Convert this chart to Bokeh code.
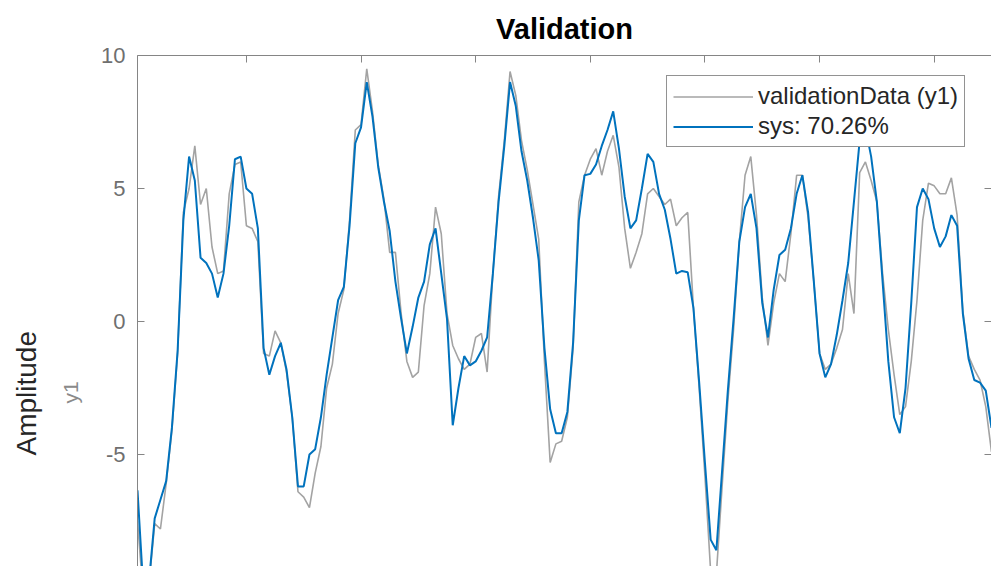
from bokeh.plotting import figure
from bokeh.models import LinearAxis, FixedTicker, Legend, LegendItem, Range1d, Title
from bokeh.embed import file_html
from bokeh.resources import INLINE

samples = list(range(1, 151))

validation_y1 = [
    -7.5, -10.3, -9.9, -7.6, -7.8, -6.1, -4.1, -1.2, 4.1, 5.0,
    6.6, 4.4, 5.0, 2.8, 1.8, 1.9, 4.8, 5.9, 6.0, 3.6,
    3.5, 3.0, -1.2, -1.3, -0.35, -0.8, -1.9, -3.6, -6.4, -6.6,
    -7.0, -5.7, -4.7, -2.5, -1.6, 0.3, 1.2, 3.8, 7.2, 7.4,
    9.5, 7.9, 5.9, 4.6, 2.6, 2.6, 0.3, -1.5, -2.1, -1.9,
    0.6, 1.8, 4.3, 3.3, 0.3, -0.9, -1.4, -1.8, -1.6, -0.6,
    -0.45, -1.9, 1.8, 4.7, 6.8, 9.4, 8.5, 6.8, 5.7, 4.4,
    3.1, -1.5, -5.3, -4.6, -4.5, -3.6, -1.0, 4.5, 5.5, 6.1,
    6.5, 5.5, 6.4, 7.0, 5.8, 3.5, 2.0, 2.6, 3.3, 4.8,
    5.0, 4.7, 4.4, 4.6, 3.6, 3.9, 4.1, 0.5, -2.5, -5.8,
    -9.4, -9.5, -6.2, -3.0, -0.3, 3.0, 5.5, 6.2, 4.0, 0.9,
    -0.9, 0.7, 1.8, 1.5, 3.3, 5.5, 5.5, 3.9, 1.5, -1.2,
    -1.8, -1.6, -1.0, -0.3, 1.8, 0.3, 5.6, 6.0, 5.3, 4.5,
    1.8, -0.3, -2.0, -3.5, -3.2, -1.5, 0.8, 3.8, 5.2, 5.1,
    4.8, 4.8, 5.4, 4.0, 0.4, -1.3, -1.8, -2.2, -3.2, -4.9,
]

sys_fit = [
    -6.35, -10.0, -9.8, -7.4, -6.7, -6.0, -4.0, -1.1, 3.8, 6.2,
    5.3, 2.4, 2.2, 1.8, 0.9, 1.8, 3.6, 6.1, 6.2, 5.0,
    4.8, 3.5, -1.0, -2.0, -1.3, -0.8, -1.8, -3.6, -6.2, -6.2,
    -5.0, -4.8, -3.6, -2.0, -0.6, 0.8, 1.3, 3.6, 6.7, 7.3,
    9.0, 7.7, 5.8, 4.5, 3.4, 1.5, 0.1, -1.2, -0.2, 0.9,
    1.5, 2.9, 3.5, 1.8, 0.1, -3.9, -2.5, -1.3, -1.65, -1.5,
    -1.1, -0.6, 1.8, 4.5, 6.6, 9.0, 8.1, 6.4, 5.3, 3.9,
    2.3, -1.0, -3.3, -4.2, -4.2, -3.4, -0.8, 3.8, 5.5, 5.55,
    5.9, 6.6, 7.2, 7.9, 6.5, 4.7, 3.5, 3.8, 5.0, 6.3,
    6.0, 4.8, 4.2, 3.1, 1.8, 1.9, 1.85, 0.5, -2.3, -5.3,
    -8.2, -8.6, -5.6, -2.6, 0.1, 3.0, 4.3, 4.8, 3.5, 0.7,
    -0.6, 1.2, 2.5, 2.7, 3.5, 4.8, 5.5, 4.1, 1.5, -1.2,
    -2.1, -1.6, -0.5, 0.8, 2.2, 4.5, 6.8, 7.3, 6.2, 4.5,
    1.5, -1.5, -3.6, -4.2, -2.5, 0.7, 4.3, 5.0, 4.6, 3.5,
    2.8, 3.2, 4.0, 3.6, 0.3, -1.4, -2.2, -2.3, -2.6, -4.0,
]

x_ticks = [20, 40, 60, 80, 100, 120, 140]
y_ticks = [-5, 0, 5, 10]
y_tick_labels = ["-5", "0", "5", "10"]

series_labels = ["validationData (y1)", "sys: 70.26%"]
title_text = "Validation"
ylabel_text = "Amplitude"
ysub_text = "y1"

FONT = "Liberation Sans"
AXIS_COLOR = "#858585"
TICKLABEL_COLOR = "#6f6f6f"

p = figure(width=991, height=566, output_backend="svg", toolbar_location=None,
           x_range=Range1d(1, 150), y_range=Range1d(-9.21, 10),
           x_axis_location="above",
           min_border_left=137, min_border_right=0,
           min_border_top=55, min_border_bottom=0)
p.title.visible = False
p.grid.visible = False
p.outline_line_color = None
p.background_fill_color = "white"
p.border_fill_color = "white"

def style_axis(ax, labels=True):
    ax.axis_line_color = AXIS_COLOR
    ax.axis_line_width = 1
    ax.major_tick_line_color = AXIS_COLOR
    ax.major_tick_in = 7
    ax.major_tick_out = 0
    ax.minor_tick_line_color = None
    ax.major_label_text_font = FONT
    if labels:
        ax.major_label_text_font_size = "22px"
        ax.major_label_text_color = TICKLABEL_COLOR
        ax.major_label_standoff = 12
    else:
        ax.major_label_text_font_size = "1px"
        ax.major_label_text_color = None
        ax.major_label_standoff = 0

# top x axis (tick marks only)
top = p.xaxis[0]
top.ticker = FixedTicker(ticks=x_ticks)
style_axis(top, labels=False)

# left y axis
left = p.yaxis[0]
left.ticker = FixedTicker(ticks=y_ticks)
left.major_label_overrides = {t: s for t, s in zip(y_ticks, y_tick_labels)}
style_axis(left, labels=True)

# right y axis (tick marks only)
right = LinearAxis(ticker=FixedTicker(ticks=y_ticks))
style_axis(right, labels=False)
p.add_layout(right, "right")

r_data = p.line(samples, validation_y1, line_color="#a3a3a3", line_width=1.6)
r_sys = p.line(samples, sys_fit, line_color="#0072BD", line_width=2)

legend = Legend(items=[LegendItem(label=series_labels[0], renderers=[r_data]),
                       LegendItem(label=series_labels[1], renderers=[r_sys])],
                location=(529, 419))
legend.label_text_font = FONT
legend.label_text_font_size = "24px"
legend.label_text_color = "#262626"
legend.border_line_color = "#262626"
legend.border_line_width = 1
legend.background_fill_color = "white"
legend.background_fill_alpha = 1
legend.glyph_width = 80
legend.glyph_height = 27
legend.label_height = 27
legend.label_standoff = 5
legend.padding = 6
legend.spacing = 2
legend.margin = 0
p.add_layout(legend)

p.add_layout(Title(text=title_text, align="center", vertical_align="top",
                   offset=5, standoff=18,
                   text_font=FONT, text_font_size="29px", text_font_style="bold",
                   text_color="#000000"), "above")
p.add_layout(Title(text=ysub_text, align="left", vertical_align="top",
                   offset=163, standoff=30,
                   text_font=FONT, text_font_size="21px", text_font_style="normal",
                   text_color="#8a8a8a"), "left")
p.add_layout(Title(text=ylabel_text, align="left", offset=111, standoff=4,
                   text_font=FONT, text_font_size="28px", text_font_style="normal",
                   text_color="#262626"), "left")

open("out.html", "w").write(file_html(p, INLINE))
